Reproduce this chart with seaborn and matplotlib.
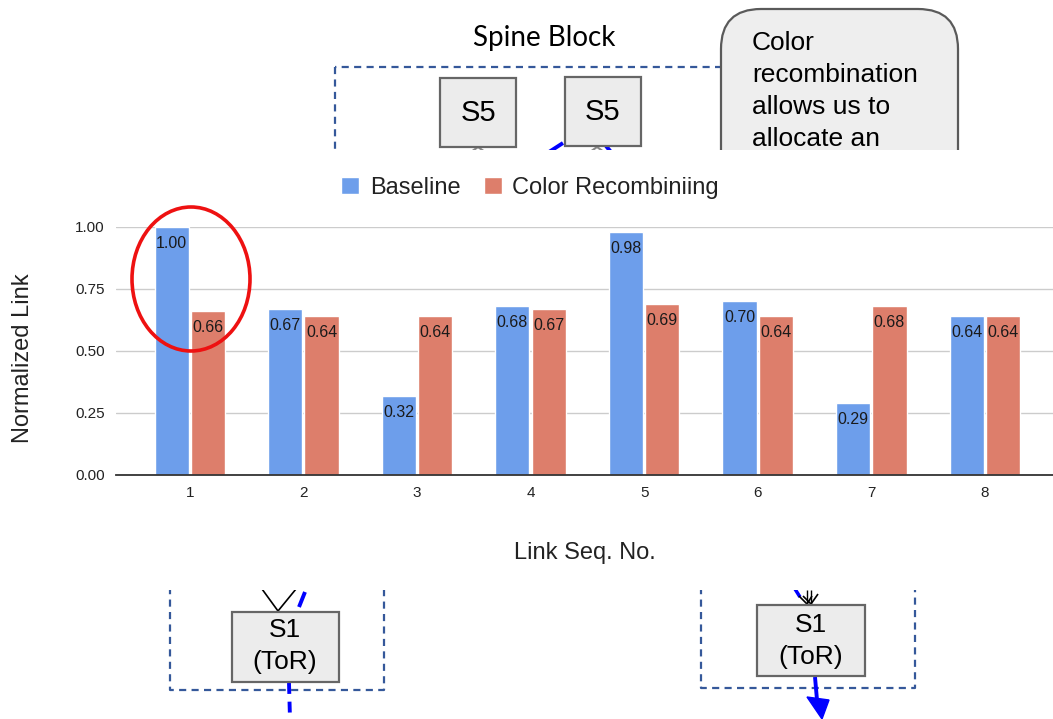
import numpy as np
import pandas as pd
import matplotlib
matplotlib.use("Agg")
import matplotlib.pyplot as plt
import seaborn as sns
from matplotlib.patches import Rectangle, FancyBboxPatch, Ellipse, Polygon

# ---------------- data ----------------
links = ["1", "2", "3", "4", "5", "6", "7", "8"]
baseline = [1.00, 0.67, 0.32, 0.68, 0.98, 0.70, 0.29, 0.64]
recombining = [0.66, 0.64, 0.64, 0.67, 0.69, 0.64, 0.68, 0.64]
series_names = ["Baseline", "Color Recombiniing"]
series_colors = ["#6d9eeb", "#dd7e6b"]
y_ticks = [0.00, 0.25, 0.50, 0.75, 1.00]
y_label = "Normalized Link"
x_label = "Link Seq. No."
callout_lines = ["Color", "recombination", "allows us to", "allocate an"]

# ---------------- style ----------------
sns.set_theme(style="white")
plt.rcParams["font.family"] = ["Liberation Sans", "DejaVu Sans"]

W, H = 1053, 719
fig = plt.figure(figsize=(W / 100, H / 100), dpi=100)
fig.patch.set_facecolor("white")

# ---------------- chart ----------------
ax = fig.add_axes([116 / W, 1 - 475 / H, (W - 116) / W, 248 / H])
df = pd.DataFrame({
    "link": links * 2,
    "value": baseline + recombining,
    "series": [series_names[0]] * len(links) + [series_names[1]] * len(links),
})
sns.barplot(data=df, x="link", y="value", hue="series", palette=series_colors,
            width=0.64, gap=0.06, saturation=1, ax=ax, legend=True)

ax.set_xlim(-0.65, 7.6)
ax.set_ylim(0, 1.0)
ax.set_yticks(y_ticks)
ax.set_yticklabels([f"{v:.2f}" for v in y_ticks])
ax.yaxis.grid(True, color="#cccccc", lw=1.0)
ax.set_axisbelow(True)
for s in ["top", "right", "left"]:
    ax.spines[s].set_visible(False)
ax.spines["bottom"].set_color("#333333")
ax.spines["bottom"].set_linewidth(1.3)
ax.tick_params(axis="both", length=0, labelsize=11, colors="#222222")
ax.tick_params(axis="x", pad=8)
ax.tick_params(axis="y", pad=8)

for c in ax.containers:
    labels = ax.bar_label(c, fmt="%.2f", padding=-6.5, fontsize=11.5, color="#1a1a1a")
    for t in labels:
        t.set_va("top")

ax.set_ylabel(y_label, fontsize=17, color="#222222")
ax.yaxis.set_label_coords(-0.088, 0.47)
ax.set_xlabel(x_label, fontsize=17, color="#222222")
ax.xaxis.set_label_coords(0.5, -0.27)

handles, labels = ax.get_legend_handles_labels()
if ax.get_legend() is not None:
    ax.get_legend().remove()
ax.legend(handles[:2], labels[:2], loc="center", bbox_to_anchor=(0.442, 1.157),
          ncol=2, frameon=False, fontsize=17, handlelength=0.75, handleheight=0.75,
          handletextpad=0.45, columnspacing=1.0, labelcolor="#222222")

# ---------------- diagram overlay (pixel coordinates) ----------------
ov = fig.add_axes([0, 0, 1, 1])
ov.set_xlim(0, W)
ov.set_ylim(H, 0)
ov.axis("off")
ov.patch.set_alpha(0)

top_clip = Rectangle((0, 0), W, 150, transform=ov.transData)
bot_clip = Rectangle((0, 590), W, H - 590, transform=ov.transData)

DASH_BLUE = "#35589a"
BOX_FACE = "#ececec"
BOX_EDGE = "#666666"


def clip(artist, rect):
    artist.set_clip_path(rect)
    return artist


def dashed_rect(x0, y0, x1, y1, rect):
    ln, = ov.plot([x0, x0, x1, x1, x0], [y0, y1, y1, y0, y0], color=DASH_BLUE,
                  lw=1.6, linestyle=(0, (3.2, 2.4)), zorder=1)
    clip(ln, rect)


def box(x0, y0, x1, y1, rect):
    p = Rectangle((x0, y0), x1 - x0, y1 - y0, facecolor=BOX_FACE, edgecolor=BOX_EDGE,
                  lw=1.6, zorder=3)
    ov.add_patch(p)
    clip(p, rect)


def seg(xs, ys, rect, color="black", lw=1.2, ls="-"):
    ln, = ov.plot(xs, ys, color=color, lw=lw, linestyle=ls, solid_capstyle="butt", zorder=2)
    clip(ln, rect)


# top: spine block
ov.text(544, 38, "Spine Block", ha="center", va="center", fontsize=20,
        family=["Lato", "DejaVu Sans"], color="black")
dashed_rect(335, 67, 740, 260, top_clip)
box(440, 78, 516, 147, top_clip)
box(565, 77, 641, 146, top_clip)
ov.text(478, 113, "S5", ha="center", va="center", fontsize=21, color="black", zorder=4)
ov.text(603, 112, "S5", ha="center", va="center", fontsize=21, color="black", zorder=4)
seg([549, 563], [152, 143], top_clip, color="blue", lw=2.8)
seg([606, 611], [146, 152], top_clip, color="blue", lw=2.8)
seg([471, 478, 485], [152, 147, 152], top_clip, color="#888888", lw=1.5)
seg([590, 597, 604], [152, 147, 152], top_clip, color="#888888", lw=1.5)

# callout
cb = FancyBboxPatch((721, 9), 237, 240, boxstyle="round,pad=0,rounding_size=40",
                    facecolor="#eeeeee", edgecolor="#5a5a5a", lw=1.6, zorder=5)
ov.add_patch(cb)
clip(cb, top_clip)
for i, line in enumerate(callout_lines):
    t = ov.text(752, 43 + 32 * i, line, ha="left", va="center", fontsize=19,
                color="black", zorder=6)
    clip(t, top_clip)

# bottom-left ToR
dashed_rect(170, 500, 384, 690, bot_clip)
box(232, 612, 339, 682, bot_clip)
ov.text(285, 646, "S1\n(ToR)", ha="center", va="center", fontsize=19,
        linespacing=1.4, color="black", zorder=4)
seg([262, 278, 296], [589, 611, 589], bot_clip, color="black", lw=1.2)
seg([305, 299], [592, 607], bot_clip, color="blue", lw=2.8)
seg([289, 290], [683, 719], bot_clip, color="blue", lw=2.8, ls=(0, (2.8, 2.0)))

# bottom-right ToR
dashed_rect(701, 500, 915, 688, bot_clip)
box(757, 605, 865, 676, bot_clip)
ov.text(811, 641, "S1\n(ToR)", ha="center", va="center", fontsize=19,
        linespacing=1.4, color="black", zorder=4)
seg([795, 800], [589, 597], bot_clip, color="blue", lw=2.5)
seg([799, 807, 812], [596, 604, 596], bot_clip, color="black", lw=1.2)
seg([803, 811, 818], [596, 604, 594], bot_clip, color="black", lw=1.2)
seg([807, 807], [590, 604], bot_clip, color="black", lw=1.0)
seg([811, 811], [590, 604], bot_clip, color="black", lw=1.0)
seg([815, 817], [677, 700], bot_clip, color="blue", lw=2.8)
arrow = Polygon([[807, 697], [829, 700], [822, 719]], closed=True, facecolor="blue",
                edgecolor="blue", lw=1, zorder=2)
ov.add_patch(arrow)
clip(arrow, bot_clip)

# highlight ellipse
ov.add_patch(Ellipse((191, 279), 118, 144, fill=False, edgecolor="#ee1111", lw=2.6, zorder=7))

fig.savefig("out.png", dpi=100, facecolor="white")
